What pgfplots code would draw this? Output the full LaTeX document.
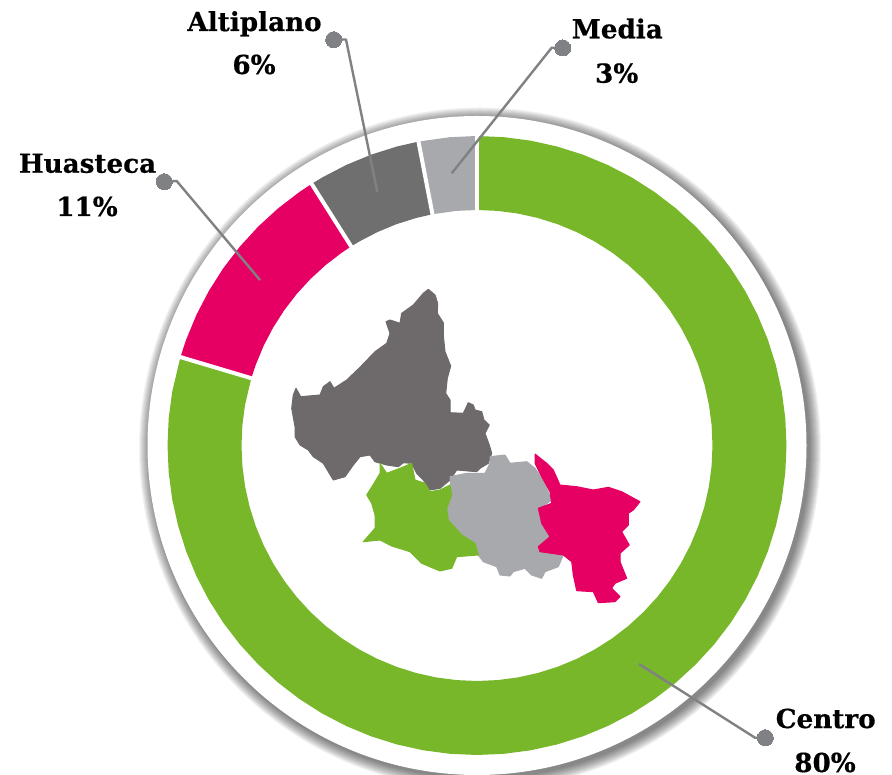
\documentclass[border=0pt]{standalone}
\usepackage{pgfplots}
\pgfplotsset{compat=1.18}
\usepackage{fontspec}
\setmainfont{DejaVu Serif}
\newfontfamily\labelfont[FakeBold=0.5]{DejaVu Serif Bold}
\definecolor{cgreen}{HTML}{78B72A}
\definecolor{cpink}{HTML}{E60064}
\definecolor{cdark}{HTML}{6F6F6F}
\definecolor{clight}{HTML}{A8A9AD}
\definecolor{cline}{HTML}{808184}
\definecolor{cmapdark}{HTML}{6E6A6C}
\pgfplotsset{base/.style={hide axis,scale only axis,width=892pt,height=775pt,clip=true}}
\newcommand{\lab}[4]{\node[anchor=base,font=\labelfont\fontsize{26.2}{28}\selectfont,inner sep=0pt,black] at (axis cs:#1,#2) {#3};}
\begin{document}
\begin{tikzpicture}
\useasboundingbox (0,0) rectangle (892pt,775pt);
\begin{axis}[base,at={(0,0)},xmin=-477,xmax=415,ymin=-329.5,ymax=445.5]
% shadow and white disc
\pgfplotsinvokeforeach{341,340,339,338,337,336,335,334,333,332,331,330}{
  \fill[black,opacity=0.05] (axis cs:3,-3) circle[radius=#1];
}
\fill[white] (axis cs:0,0) circle[radius=329.5];
% Centro 80 %
\addplot[fill=cgreen,draw=none,data cs=polar] coordinates {
(90,309.5)(85,309.5)(80,309.5)(75,309.5)(70,309.5)(65,309.5)(60,309.5)(55,309.5)(50,309.5)(45,309.5)(40,309.5)(35,309.5)(30,309.5)(25,309.5)(20,309.5)(15,309.5)(10,309.5)(5,309.5)(0,309.5)
(-5,309.5)(-10,309.5)(-15,309.5)(-20,309.5)(-25,309.5)(-30,309.5)(-35,309.5)(-40,309.5)(-45,309.5)(-50,309.5)(-55,309.5)(-60,309.5)(-65,309.5)(-70,309.5)(-75,309.5)(-80,309.5)(-85,309.5)(-90,309.5)
(-95,309.5)(-100,309.5)(-105,309.5)(-110,309.5)(-115,309.5)(-120,309.5)(-125,309.5)(-130,309.5)(-135,309.5)(-140,309.5)(-145,309.5)(-150,309.5)(-155,309.5)(-160,309.5)(-165,309.5)(-170,309.5)(-175,309.5)(-180,309.5)(-185,309.5)(-190,309.5)(-196.6,309.5)
(-196.6,235.5)(-190,235.5)(-185,235.5)(-180,235.5)(-175,235.5)(-170,235.5)(-165,235.5)(-160,235.5)(-155,235.5)(-150,235.5)(-145,235.5)(-140,235.5)(-135,235.5)(-130,235.5)(-125,235.5)(-120,235.5)(-115,235.5)(-110,235.5)(-105,235.5)(-100,235.5)(-95,235.5)
(-90,235.5)(-85,235.5)(-80,235.5)(-75,235.5)(-70,235.5)(-65,235.5)(-60,235.5)(-55,235.5)(-50,235.5)(-45,235.5)(-40,235.5)(-35,235.5)(-30,235.5)(-25,235.5)(-20,235.5)(-15,235.5)(-10,235.5)(-5,235.5)
(0,235.5)(5,235.5)(10,235.5)(15,235.5)(20,235.5)(25,235.5)(30,235.5)(35,235.5)(40,235.5)(45,235.5)(50,235.5)(55,235.5)(60,235.5)(65,235.5)(70,235.5)(75,235.5)(80,235.5)(85,235.5)(90,235.5)
};
% Huasteca 11 %
\addplot[fill=cpink,draw=none,data cs=polar] coordinates {
(122.3,309.5)(125,309.5)(130,309.5)(135,309.5)(140,309.5)(145,309.5)(150,309.5)(155,309.5)(160,309.5)(163.4,309.5)
(163.4,235.5)(160,235.5)(155,235.5)(150,235.5)(145,235.5)(140,235.5)(135,235.5)(130,235.5)(125,235.5)(122.3,235.5)
};
% Altiplano 6 %
\addplot[fill=cdark,draw=none,data cs=polar] coordinates {
(100.9,309.5)(105,309.5)(110,309.5)(115,309.5)(120,309.5)(122.3,309.5)
(122.3,235.5)(120,235.5)(115,235.5)(110,235.5)(105,235.5)(100.9,235.5)
};
% Media 3 %
\addplot[fill=clight,draw=none,data cs=polar] coordinates {
(90,309.5)(95,309.5)(100.9,309.5)
(100.9,235.5)(95,235.5)(90,235.5)
};
% separators
\addplot[white,line width=4pt,data cs=polar] coordinates {(90,230)(90,315)};
\addplot[white,line width=4pt,data cs=polar] coordinates {(100.9,230)(100.9,315)};
\addplot[white,line width=4pt,data cs=polar] coordinates {(122.3,230)(122.3,315)};
\addplot[white,line width=4pt,data cs=polar] coordinates {(163.4,230)(163.4,315)};
\end{axis}
\begin{axis}[base,at={(0,0)},xmin=0,xmax=892,ymin=0,ymax=775,y dir=reverse]
% map: Altiplano
\addplot[fill=cmapdark,draw=cmapdark,line width=1pt,line join=round] coordinates {
(428.3,289.3)(435,295)(437.7,303.3)(437.3,313.3)(443.3,322.7)(443.3,335)(445,351.7)(450.7,366)(447.3,378.3)(445.7,393.3)(450,400)(450,412.7)(463.3,413.3)(468.3,402.7)(473.3,405)(475,410)(481.7,411.7)(484,420)(489.3,425)(485,433.3)(489.3,445)(491.7,453.3)(488.3,463.3)(480,468.3)(476.7,471.7)(456.7,470)(450,480)(440,488.3)(430,490)(423.3,480)(416.7,473.3)(411.7,463.3)(403.3,462.7)(398.3,466.7)(386.7,465)(375,461.7)(370,455)(360,456.7)(353.3,465)(345,476.7)(333.3,480)(328.3,471.7)(323.3,463.3)(313.3,456.7)(308.3,450)(300,445)(295,436.7)(295,426.7)(291.7,408.3)(293.3,395)(296,388.3)(300.7,396.7)(320,395)(323.3,386.7)(330,381.7)(334,388.3)(346.7,380)(360,367.3)(375,351.7)(386.7,343.3)(390,333.3)(386,321.7)(390,320)(400,323.3)(401.7,313.3)(413.3,305)(423.3,293.3)
} -- cycle;
% map: Media
\addplot[fill=clight,draw=clight,line width=1pt,line join=round] coordinates {
(490,456.7)(505,455)(510,463.3)(526.7,461.7)(535,468.3)(543.3,480)(551.7,500)(540,508.3)(541.7,523.3)(550,536.7)(540,548.3)(563.3,555)(558.3,566.7)(545,571.7)(541.7,578.3)(531.7,575)(525,568.3)(513.3,571.7)(510,576)(500,575)(496.7,566.7)(483.3,561.7)(478.3,555)(475,543.3)(461.7,535)(448.3,520)(446.7,508.3)(451.7,495)(450,476.7)(466.7,473.3)(485,473.3)(490,463.3)
} -- cycle;
% map: Centro
\addplot[fill=cgreen,draw=cgreen,line width=1pt,line join=round] coordinates {
(380,463.3)(386.7,473.3)(400,468.3)(411.7,463.3)(415,480)(425,483.3)(430,491.7)(440,490)(450,485)(451.7,495)(446.7,508.3)(448.3,520)(461.7,535)(475,543.3)(478.3,555)(456.7,556.7)(451.7,568.3)(440,571)(421.7,563.3)(410,551.7)(391.7,546)(380,540)(363.3,541.7)(375,528.3)(375,515)(371.7,503.3)(366.7,495)(375,481.7)(380,473.3)
} -- cycle;
% map: Huasteca
\addplot[fill=cpink,draw=cpink,line width=1pt,line join=round] coordinates {
(535,454)(546.7,463.3)(553.3,470)(560,485)(576.7,486.7)(593.3,490)(608.3,487.3)(621.7,491.7)(640,501.7)(633.3,510)(628.3,513.3)(628.3,525)(621.7,531.7)(629.3,545)(620,553.3)(620,561.7)(626.7,578.3)(615,583.3)(611.7,588.3)(620,596.7)(615,601.7)(598.3,602.7)(593.3,591.7)(576.7,590.7)(573.3,575)(571.7,561.7)(563.3,555)(540,551.7)(538.3,546.7)(550,536.7)(541.7,523.3)(538.3,508.3)(551.7,503.3)(550,491.7)(541.7,476.7)(535,463.3)
} -- cycle;
% leaders
\addplot[cline,line width=2.4pt,line join=round] coordinates {(333.7,39.7)(346,39.5)(377.3,191.7)};
\addplot[cline,line width=2.4pt,line join=round] coordinates {(562.7,48)(551.7,47.7)(451.7,173.3)};
\addplot[cline,line width=2.4pt,line join=round] coordinates {(164.3,181.7)(176.7,181)(260,280)};
\addplot[cline,line width=2.4pt,line join=round] coordinates {(765.3,737.7)(755,737.7)(639,664)};
\addplot[only marks,mark=*,mark size=8pt,mark options={fill=cline,draw=cline,line width=0pt}] coordinates {(333.7,39.7)(562.7,48)(164.3,181.7)(765.3,737.7)};
% labels
\lab{254.5}{31}{Altiplano}{}
\lab{254}{74}{6\%}{}
\lab{87.5}{172.7}{Huasteca}{}
\lab{87}{216}{11\%}{}
\lab{617.3}{38.3}{Media}{}
\lab{616.7}{82.7}{3\%}{}
\lab{825.7}{728}{Centro}{}
\lab{825}{772}{80\%}{}
\end{axis}
\end{tikzpicture}
\end{document}
